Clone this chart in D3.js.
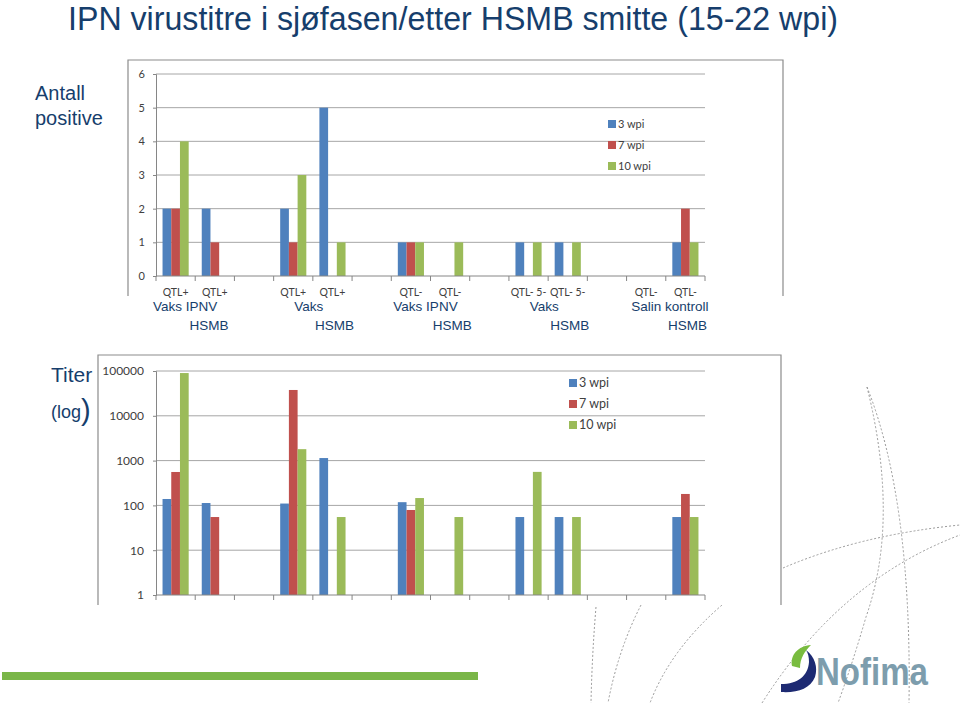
<!DOCTYPE html>
<html><head><meta charset="utf-8">
<script src="https://cdn.jsdelivr.net/npm/d3@7"></script>
<style>
html,body{margin:0;padding:0;background:#fff;}
svg{display:block;}
</style></head>
<body>
<svg id="c" width="960" height="703"></svg>
<script>
// ---------- DATA ----------
const categories = ["QTL+","QTL+","","QTL+","QTL+","","QTL-","QTL-","","QTL- 5-","QTL- 5-","","QTL-","QTL-"];
const seriesNames = ["3 wpi","7 wpi","10 wpi"];
const groupNames = ["Vaks IPNV","Vaks","Vaks IPNV","Vaks","Salin kontroll"];
const groupSub = ["HSMB","HSMB","HSMB","HSMB","HSMB"];
// Antall positive
const positive3  = [2,2,0,2,5,0,1,0,0,1,1,0,0,1];
const positive7  = [2,1,0,1,0,0,1,0,0,0,0,0,0,2];
const positive10 = [4,0,0,3,1,0,1,1,0,1,1,0,0,1];
// Titer (log)
const titer3  = [139,113,null,110,1140,null,118,null,null,55,55,null,null,55];
const titer7  = [557,55,null,37700,null,null,79,null,null,null,null,null,null,180];
const titer10 = [90000,null,null,1800,55,null,146,55,null,560,55,null,null,55];
const countTicks = [0,1,2,3,4,5,6];
const titerTicks = [1,10,100,1000,10000,100000];

// ---------- STYLE ----------
const colors = ["#4F81BD","#C0504D","#9BBB59"];
const navy = "#163E6C";
const chartFont = "Lato, 'Open Sans', sans-serif";
const slideFont = "'Liberation Sans', Arial, sans-serif";
const gridCol = "#A6A6A6";

const svg = d3.select("#c");

// ---------- decorative dashed arcs ----------
const deco = svg.append("g").attr("fill","none").attr("stroke","#9a9a9a")
  .attr("stroke-width",1).attr("stroke-dasharray","2,2");
[
 "M867,387 Q900,520 866,617 Q852,665 838,703",
 "M867,387 Q912,500 909,703",
 "M783,568 Q860,535 960,525",
 "M762,703 Q840,580 960,535",
 "M596,607 Q592,655 591,703",
 "M641,605 Q618,650 608,703",
 "M722,605 Q670,650 650,703"
].forEach(d=>deco.append("path").attr("d",d));

// ---------- title & slide text ----------
svg.append("text").attr("x",68).attr("y",30).attr("font-family",slideFont)
  .attr("font-size",34).attr("fill",navy).attr("textLength",770).attr("lengthAdjust","spacingAndGlyphs")
  .text("IPN virustitre i sjøfasen/etter HSMB smitte (15-22 wpi)");
svg.append("text").attr("x",35).attr("y",100).attr("font-family",slideFont)
  .attr("font-size",20).attr("fill",navy).text("Antall");
svg.append("text").attr("x",35).attr("y",125).attr("font-family",slideFont)
  .attr("font-size",20).attr("fill",navy).text("positive");
svg.append("text").attr("x",51).attr("y",382).attr("font-family",slideFont)
  .attr("font-size",21).attr("fill",navy).text("Titer");
const lg = svg.append("text").attr("x",51).attr("y",418).attr("font-family",slideFont).attr("fill",navy);
lg.append("tspan").attr("font-size",18).text("(log");
lg.append("tspan").attr("font-size",29).attr("dy",2).text(")");

// green bar
svg.append("rect").attr("x",2).attr("y",672).attr("width",476).attr("height",8).attr("fill","#7AB648");

// Nofima logo
const logo = svg.append("g");
logo.append("path").attr("d","M781,684 C798,684 808,676 809,662 C809,657 808,653 806,650 C815,657 818,667 815,677 C810,689 797,693 781,692 Z").attr("fill","#1D2A72");
logo.append("path").attr("d","M792,666 C790,655 798,646 811,645 C805,651 800,658 800,668 Z").attr("fill","#79BC3F");
logo.append("text").attr("x",816).attr("y",685).attr("font-family",slideFont).attr("font-weight","bold")
  .attr("font-size",38).attr("fill","#7D9DAD").attr("textLength",112).attr("lengthAdjust","spacingAndGlyphs").text("Nofima");

// ---------- common x scale ----------
const idx = categories.map((c,i)=>i);
const x = d3.scaleBand().domain(idx).range([156,705]).paddingInner(0).paddingOuter(0);
const xs = d3.scaleBand().domain(seriesNames).range([0,x.bandwidth()]).paddingInner(0).paddingOuter(0.75);

function frame(g, x0, y0, x1, y1){
  g.append("path").attr("d",`M${x0},${y1} V${y0} H${x1} V${y1}`)
    .attr("fill","none").attr("stroke","#8C8C8C").attr("stroke-width",1.2);
}
function legend(g, lx, ly, gap, fs){
  seriesNames.forEach((s,i)=>{
    g.append("rect").attr("x",lx).attr("y",ly+i*gap-4).attr("width",8).attr("height",8).attr("fill",colors[i]);
    g.append("text").attr("x",lx+10).attr("y",ly+i*gap).attr("dy","0.35em")
      .attr("font-family",chartFont).attr("font-size",fs).attr("fill","#404040").text(s);
  });
}
function xAxisTicks(g, yb){
  g.append("line").attr("x1",156).attr("x2",705).attr("y1",yb).attr("y2",yb).attr("stroke","#868686");
  const bounds = idx.map(i=>x(i)).concat([x.range()[1]]);
  g.selectAll(".xt").data(bounds).join("line").attr("x1",d=>d).attr("x2",d=>d)
    .attr("y1",yb).attr("y2",yb+5).attr("stroke","#868686");
}

// ---------- CHART 1 : Antall positive ----------
const c1 = svg.append("g");
c1.append("rect").attr("x",128).attr("y",60).attr("width",655).attr("height",236).attr("fill","#fff");
frame(c1,128,60,783,296);
const y1 = d3.scaleLinear().domain([0,6]).range([276,74]);
c1.append("g").selectAll("line").data(countTicks.filter(t=>t>0)).join("line")
  .attr("x1",156).attr("x2",705).attr("y1",d=>y1(d)).attr("y2",d=>y1(d)).attr("stroke",gridCol);
const ya1 = c1.append("g").attr("transform","translate(156,0)")
  .call(d3.axisLeft(y1).tickValues(countTicks).tickSize(3).tickPadding(8).tickFormat(d3.format("d")));
ya1.select(".domain").attr("stroke","#868686");
ya1.selectAll(".tick line").attr("stroke","#868686");
ya1.selectAll("text").attr("font-family",chartFont).attr("font-size",11).attr("fill","#404040");
const pos = [positive3,positive7,positive10];
pos.forEach((arr,si)=>{
  c1.append("g").selectAll("rect").data(idx.filter(i=>arr[i]>0)).join("rect")
    .attr("x",i=>x(i)+xs(seriesNames[si])).attr("width",xs.bandwidth())
    .attr("y",i=>y1(arr[i])).attr("height",i=>y1(0)-y1(arr[i])).attr("fill",colors[si]);
});
xAxisTicks(c1,276);
c1.append("g").selectAll("text").data(idx.filter(i=>categories[i])).join("text")
  .attr("x",i=>x(i)+x.bandwidth()/2).attr("y",292).attr("dy","0.35em").attr("text-anchor","middle")
  .attr("font-family",chartFont).attr("font-size",10.5).attr("fill","#404040").text(i=>categories[i]);
legend(c1,608,124,21,11);

// group labels
const rowOff = [-10,-4,-5,-4,4];
groupNames.forEach((gname,gi)=>{
  const a = x(gi*3), b = x(gi*3+1)+x.bandwidth();
  svg.append("text").attr("x",(a+b)/2+rowOff[gi]).attr("y",311).attr("text-anchor","middle")
    .attr("font-family",slideFont).attr("font-size",13.5).attr("fill",navy).text(gname);
  svg.append("text").attr("x",b+2-(gi===0?8:0)).attr("y",330).attr("text-anchor","end")
    .attr("font-family",slideFont).attr("font-size",13.5).attr("fill",navy).text(groupSub[gi]);
});

// ---------- CHART 2 : Titer (log) ----------
const c2 = svg.append("g");
c2.append("rect").attr("x",98).attr("y",355).attr("width",683).attr("height",250).attr("fill","#fff");
frame(c2,98,355,781,605);
const y2 = d3.scaleLog().domain([1,100000]).range([595,371]);
c2.append("g").selectAll("line").data(titerTicks.filter(t=>t>1)).join("line")
  .attr("x1",156).attr("x2",705).attr("y1",d=>y2(d)).attr("y2",d=>y2(d)).attr("stroke",gridCol);
const ya2 = c2.append("g").attr("transform","translate(156,0)")
  .call(d3.axisLeft(y2).tickValues(titerTicks).tickSize(3).tickPadding(9).tickFormat(d3.format("d")));
ya2.select(".domain").attr("stroke","#868686");
ya2.selectAll(".tick line").attr("stroke","#868686");
ya2.selectAll("text").attr("font-family",chartFont).attr("font-size",12).attr("fill","#404040");
const tit = [titer3,titer7,titer10];
tit.forEach((arr,si)=>{
  c2.append("g").selectAll("rect").data(idx.filter(i=>arr[i])).join("rect")
    .attr("x",i=>x(i)+xs(seriesNames[si])).attr("width",xs.bandwidth())
    .attr("y",i=>y2(arr[i])).attr("height",i=>y2(1)-y2(arr[i])).attr("fill",colors[si]);
});
xAxisTicks(c2,595);
legend(c2,569,383,21,12.5);
</script>
</body></html>
